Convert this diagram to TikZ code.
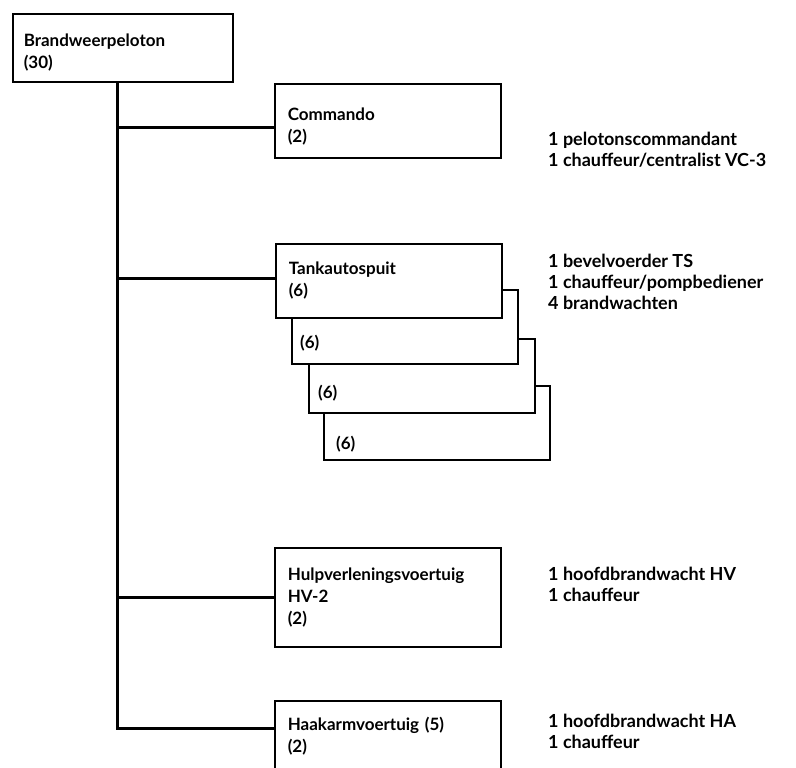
\documentclass[tikz,border=0pt]{standalone}
\usepackage{fontspec}
\setmainfont{Lato}
\usepackage{tikz}

\begin{document}
\begin{tikzpicture}[x=1pt,y=-1pt,
    unit/.style={draw,line width=1.6pt,fill=white,anchor=north west,align=left,
      text width=200pt,inner xsep=13pt,inner ysep=0pt,minimum width=226pt,
      font=\fontsize{17}{22}\selectfont\bfseries},
    lower/.style={execute at begin node={\rule{0pt}{#1}}},
    count/.style={anchor=base west,inner sep=0pt,font=\fontsize{17}{22}\selectfont\bfseries},
    crew/.style={anchor=base west,align=left,inner sep=0pt,font=\fontsize{18}{21}\selectfont\bfseries},
    bar/.style={line width=3pt}]
            \fill[white] (0,0) rectangle (796,768);
            \clip (0,0) rectangle (796,768);

            \node[unit,lower=22.5pt,text width=198pt,inner xsep=11pt,minimum width=220pt,minimum height=68pt] (peloton) at (12,13) {Brandweerpeloton\\(30)};

            \node[unit,lower=24.5pt,minimum height=74pt] (commando) at (274,83) {Commando\\(2)};
            \node[crew] (commandocrew) at (548,166) {1 pelotonscommandant\\1 chauffeur/centralist VC-3};

            \node[unit,minimum height=74pt] (ts4) at (323,385) {};
            \node[unit,minimum height=74pt] (ts3) at (308,338) {};
            \node[unit,minimum height=74pt] (ts2) at (291,289) {};
            \node[unit,minimum height=74pt] (ts1) at (275,243) {Tankautospuit\\(6)};
            \node[count] (ts2n) at ([shift={(9pt,16pt)}]ts2.south west) {(6)};
            \node[count] (ts3n) at ([shift={(10pt,15pt)}]ts3.south west) {(6)};
            \node[count] (ts4n) at ([shift={(13pt,11pt)}]ts4.south west) {(6)};
            \node[crew] (tscrew) at (548,309) {1 bevelvoerder TS\\1 chauffeur/pompbediener\\4 brandwachten};

            \node[unit,minimum height=99pt] (hv) at (274,547) {Hulpverleningsvoertuig\\HV-2\\(2)};
            \node[crew] (hvcrew) at (548,601) {1 hoofdbrandwacht HV\\1 chauffeur};

            \node[unit,minimum height=70pt] (haakarm) at (274,700) {Haakarmvoertuig (5)\\(2)};
            \node[crew] (haakarmcrew) at (548,748) {1 hoofdbrandwacht HA\\1 chauffeur};

            \coordinate (trunk) at ([xshift=-5pt]peloton.south);
            \draw[bar] (trunk) |- ([yshift=-7pt]commando.west);
            \draw[bar] (trunk) |- ([yshift=2pt]ts1.west);
            \draw[bar] (trunk) |- (hv.west);
            \draw[bar] (trunk) |- ([yshift=7pt]haakarm.west);

         \end{tikzpicture}
\end{document}
